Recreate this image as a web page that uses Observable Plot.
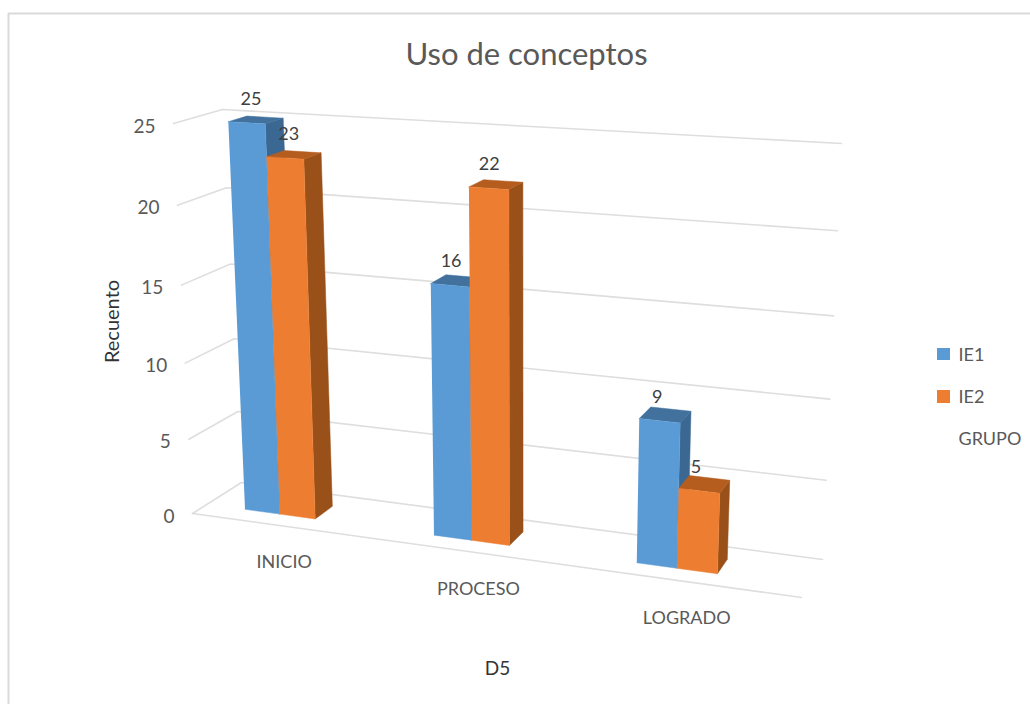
<!DOCTYPE html>
<html lang="es">
<head>
<meta charset="utf-8">
<script src="https://cdn.jsdelivr.net/npm/d3@7"></script>
<script src="https://cdn.jsdelivr.net/npm/@observablehq/plot@0.6"></script>
<style>
html,body{margin:0;padding:0;background:#fff;overflow:hidden}
[aria-label="axis-title"] text{letter-spacing:0.9px}
</style>
</head>
<body>
<div id="chart"></div>
<script>
// Data
const categories = ["INICIO", "PROCESO", "LOGRADO"];
const seriesNames = ["IE1", "IE2"];
const ie1 = [25, 16, 9];
const ie2 = [23, 22, 5];
const ticks = [0, 5, 10, 15, 20, 25];
const maxValue = 25;

// Colours
const front = {IE1: "#5B9BD5", IE2: "#ED7D31"};
const topFace = {IE1: "#41719C", IE2: "#B55D1F"};
const sideFace = {IE1: "#3A6893", IE2: "#9A5119"};
const ink = "#595959";
const grid = "#DEDEDE";

// The chart's 3D box as it appears on the page: [f along categories, v up, w into the page]
const box = {
  f0v0w0: [192, 513], f1v0w0: [801, 597], f0v1w0: [173, 123], f1v1w0: [818, 162],
  f0v0w1: [241, 482], f1v0w1: [822, 559], f0v1w1: [222, 109], f1v1w1: [841, 143]
};
const lerp = (a, b, t) => a + (b - a) * t;
// Perspective along the value axis and along the category axis
const vFrac = v => { const t = v / maxValue; return t + 0.06 * t * (t - 1); };
const slotFrac = t => 0.121 + 0.3075 * t + 0.0115 * t * t;
function project(f, value, w) {
  const v = vFrac(value);
  return [0, 1].map(i => {
    const b0 = lerp(lerp(box.f0v0w0[i], box.f1v0w0[i], f), lerp(box.f0v0w1[i], box.f1v0w1[i], f), w);
    const b1 = lerp(lerp(box.f0v1w0[i], box.f1v1w0[i], f), lerp(box.f0v1w1[i], box.f1v1w1[i], f), w);
    return lerp(b0, b1, v);
  });
}

const barFrontW = 0.3, barBackW = 0.69, barStep = 0.19;

// Grid lines
const gridPts = [];
ticks.forEach(t => {
  [[0, 0], [0, 1], [1, 1]].forEach(([f, w]) => {
    const [x, y] = project(f, t, w);
    gridPts.push({id: "g" + t, x, y});
  });
});
[[0, 0], [1, 0]].forEach(([f, w]) => {
  const [x, y] = project(f, 0, w);
  gridPts.push({id: "floor", x, y});
});

// Bar faces, far to near
const facePts = [];
const labels = [];
function addFace(id, fill, corners) {
  corners.forEach(([f, v, w]) => {
    const [x, y] = project(f, v, w);
    facePts.push({id, fill, x, y});
  });
}
categories.forEach((cat, c) => {
  seriesNames.forEach((s, k) => {
    const val = (k === 0 ? ie1 : ie2)[c];
    const f1 = slotFrac(c + (k - 1) * barStep), f2 = slotFrac(c + k * barStep);
    const a = barFrontW, b = barBackW, id = cat + s;
    addFace(id + "side", sideFace[s], [[f2, 0, a], [f2, 0, b], [f2, val, b], [f2, val, a]]);
    addFace(id + "top", topFace[s], [[f1, val, a], [f1, val, b], [f2, val, b], [f2, val, a]]);
    addFace(id + "front", front[s], [[f1, 0, a], [f2, 0, a], [f2, val, a], [f1, val, a]]);
    const fm = (f1 + f2) / 2;
    const [x, y] = project(fm, val, a);
    labels.push({text: String(val), x: x + 5 - 10 * fm, y: y - 24});
  });
});

const tickLabels = ticks.map(t => {
  const [x, y] = project(0, t, 0);
  return {text: String(t), x: x - 18, y: y + 3};
});
const catLabels = categories.map((text, c) => {
  const [x, y] = project(slotFrac(c), 0, 0);
  return {text, x: x + 18, y: y + 39};
});

const legend = [
  {name: "IE1", x1: 937, x2: 950, y1: 348, y2: 360, ty: 355},
  {name: "IE2", x1: 937, x2: 950, y1: 390, y2: 403, ty: 397}
];

const chart = Plot.plot({
  width: 1030,
  height: 704,
  margin: 0,
  style: {fontFamily: "Lato, 'Open Sans', sans-serif", background: "#fff", overflow: "hidden"},
  x: {domain: [0, 1030], range: [0, 1030], axis: null},
  y: {domain: [0, 704], range: [0, 704], axis: null},
  marks: [
    Plot.ruleX([8], {y1: 13, y2: 704, stroke: "#DADADA", strokeWidth: 2}),
    Plot.ruleY([13], {x1: 8, x2: 1030, stroke: "#DADADA", strokeWidth: 2}),
    Plot.line(gridPts, {x: "x", y: "y", z: "id", stroke: grid, strokeWidth: 1.6}),
    Plot.line(facePts, {x: "x", y: "y", z: "id", fill: "fill", stroke: "fill", strokeWidth: 0.5}),
    Plot.text(labels, {x: "x", y: "y", text: "text", fill: "#404040", fontSize: 18}),
    Plot.text(tickLabels, {x: "x", y: "y", text: "text", fill: ink, fontSize: 19, textAnchor: "end"}),
    Plot.text(catLabels, {x: "x", y: "y", text: "text", fill: ink, fontSize: 18}),
    Plot.text(["Uso de conceptos"], {x: 526, y: 55, fill: ink, fontSize: 31}),
    Plot.text(["Recuento"], {x: 112, y: 321, rotate: -90, fill: "#333333", fontSize: 20, ariaLabel: "axis-title"}),
    Plot.text(["D5"], {x: 497, y: 668, fill: "#333333", fontSize: 19}),
    Plot.rect(legend, {x1: "x1", x2: "x2", y1: "y1", y2: "y2", fill: d => front[d.name]}),
    Plot.text(legend, {x: 958, y: "ty", text: "name", fill: ink, fontSize: 18, textAnchor: "start"}),
    Plot.text(["GRUPO"], {x: 958, y: 439, fill: ink, fontSize: 18, textAnchor: "start"})
  ]
});
document.getElementById("chart").appendChild(chart);
</script>
</body>
</html>
